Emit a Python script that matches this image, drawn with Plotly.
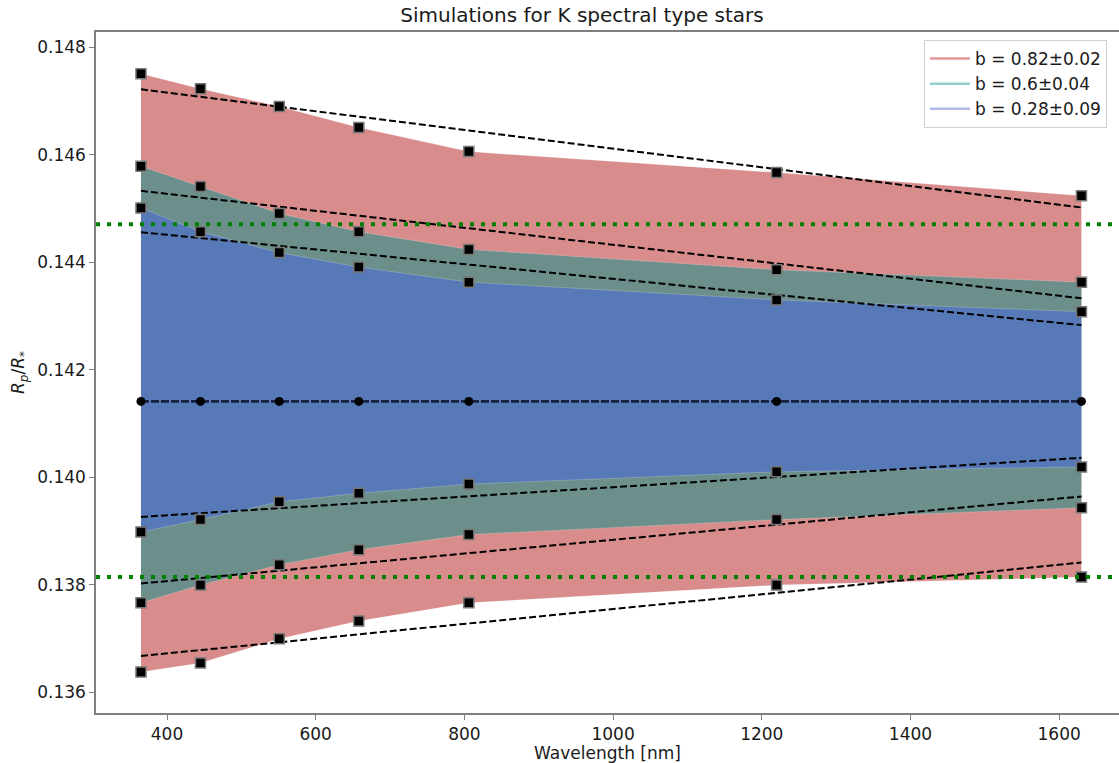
import plotly.graph_objects as go

# ---------------- data ----------------
wavelength = [365, 445, 551, 658, 806, 1220, 1630]

red_upper = [0.14751, 0.14723, 0.14690, 0.14651, 0.14606, 0.14567, 0.14524]
red_lower = [0.13637, 0.13654, 0.13699, 0.13732, 0.13766, 0.13799, 0.13814]
green_upper = [0.14579, 0.14541, 0.14491, 0.14457, 0.14424, 0.14386, 0.14363]
green_lower = [0.13766, 0.13799, 0.13837, 0.13865, 0.13893, 0.13921, 0.13943]
blue_upper = [0.14501, 0.14457, 0.14418, 0.14391, 0.14363, 0.14330, 0.14308]
blue_lower = [0.13898, 0.13921, 0.13954, 0.13970, 0.13987, 0.14010, 0.14019]
center = [0.14141, 0.14141, 0.14141, 0.14141, 0.14141, 0.14141, 0.14141]

fit_x = [365, 1630]
fit_red_upper = [0.14722, 0.14502]
fit_green_upper = [0.14533, 0.14333]
fit_blue_upper = [0.14456, 0.14283]
fit_blue_lower = [0.13926, 0.14036]
fit_green_lower = [0.13802, 0.13964]
fit_red_lower = [0.13667, 0.13841]

limit_upper = 0.14471
limit_lower = 0.13814

legend_labels = ["b = 0.82\u00b10.02", "b = 0.6\u00b10.04", "b = 0.28\u00b10.09"]
legend_colors = ["#e09898", "#8fd1c8", "#aebbea"]
fill_colors = ["#d88c8c", "#6c8f8b", "#5779b7"]

x_ticks = [400, 600, 800, 1000, 1200, 1400, 1600]
y_ticks = [0.136, 0.138, 0.140, 0.142, 0.144, 0.146, 0.148]

FONT = "DejaVu Sans"
W, H = 1119, 763
ML, MT, MB, MR = 96, 32, 50, 0

fig = go.Figure()

bands = [(red_upper, red_lower), (green_upper, green_lower), (blue_upper, blue_lower)]
for (up, lo), fc in zip(bands, fill_colors):
    fig.add_trace(go.Scatter(
        x=wavelength + wavelength[::-1],
        y=up + lo[::-1],
        fill="toself", fillcolor=fc, mode="lines",
        line=dict(width=0.6, color="rgba(255,255,255,0.35)"),
        showlegend=False, hoverinfo="skip"))

# fitted dashed lines
for fy in [fit_red_upper, fit_green_upper, fit_blue_upper,
           fit_blue_lower, fit_green_lower, fit_red_lower]:
    fig.add_trace(go.Scatter(x=fit_x, y=fy, mode="lines",
                             line=dict(color="black", width=2, dash="7px,3px"),
                             showlegend=False, hoverinfo="skip"))

# centre line
fig.add_trace(go.Scatter(x=wavelength, y=center, mode="lines+markers",
                         line=dict(color="rgba(10,20,45,0.85)", width=2.8, dash="8px,2px"),
                         marker=dict(symbol="circle", size=9, color="black"),
                         showlegend=False, hoverinfo="skip"))

# square markers
for ys in [red_upper, green_upper, blue_upper, blue_lower, green_lower, red_lower]:
    fig.add_trace(go.Scatter(x=wavelength, y=ys, mode="markers",
                             marker=dict(symbol="square", size=10, color="black",
                                         line=dict(color="#777777", width=1.5)),
                             showlegend=False, hoverinfo="skip"))

# legend entries
for lab, lc in zip(legend_labels, legend_colors):
    fig.add_trace(go.Scatter(x=[None], y=[None], mode="lines", name=lab,
                             line=dict(color=lc, width=2.5)))

# horizontal dotted limits
for ly in [limit_upper, limit_lower]:
    fig.add_shape(type="line", xref="x domain", x0=0, x1=1, yref="y", y0=ly, y1=ly,
                  line=dict(color="#008000", width=4, dash="4px,7px"), layer="above")

plot_w = W - ML - MR
plot_h = H - MT - MB

fig.update_layout(
    width=W, height=H,
    margin=dict(l=ML, r=MR, t=MT, b=MB, autoexpand=False),
    paper_bgcolor="white", plot_bgcolor="white",
    font=dict(family=FONT, size=17, color="#1a1a1a"),
    title=dict(text="Simulations for K spectral type stars",
               font=dict(family=FONT, size=20, color="#1a1a1a"),
               x=(582 - ML) / plot_w, xref="paper", xanchor="center",
               y=1 - 15 / H, yref="container", yanchor="middle"),
    showlegend=True,
    legend=dict(x=(1107 - ML) / plot_w, y=(H - MB - 40) / plot_h,
                xanchor="right", yanchor="top",
                bgcolor="white", bordercolor="#d0d0d0", borderwidth=1,
                font=dict(family=FONT, size=17, color="#1a1a1a"),
                tracegroupgap=0, itemwidth=40),
    xaxis=dict(range=[304.5, 1680.5], tickvals=x_ticks,
               showgrid=False, zeroline=False,
               showline=True, linecolor="#7f7f7f", linewidth=1.5, mirror=True,
               ticks="outside", ticklen=5, tickcolor="#7f7f7f", tickwidth=1.2,
               title=dict(text="Wavelength [nm]", standoff=5,
                          font=dict(family=FONT, size=17))),
    yaxis=dict(range=[0.135609, 0.148287], tickvals=y_ticks, tickformat=".3f",
               showgrid=False, zeroline=False,
               showline=True, linecolor="#7f7f7f", linewidth=1.5, mirror=False,
               ticks="outside", ticklen=5, tickcolor="#7f7f7f", tickwidth=1.2,
               title=dict(text="<i>R<sub>p</sub></i>/<i>R</i><sub>*</sub>", standoff=8,
                          font=dict(family=FONT, size=17))),
)

fig.write_html(
    "out.html",
    config={"displayModeBar": False},
    post_script="document.body.style.margin='0';document.body.style.padding='0';"
                "document.body.style.overflow='hidden';",
)
